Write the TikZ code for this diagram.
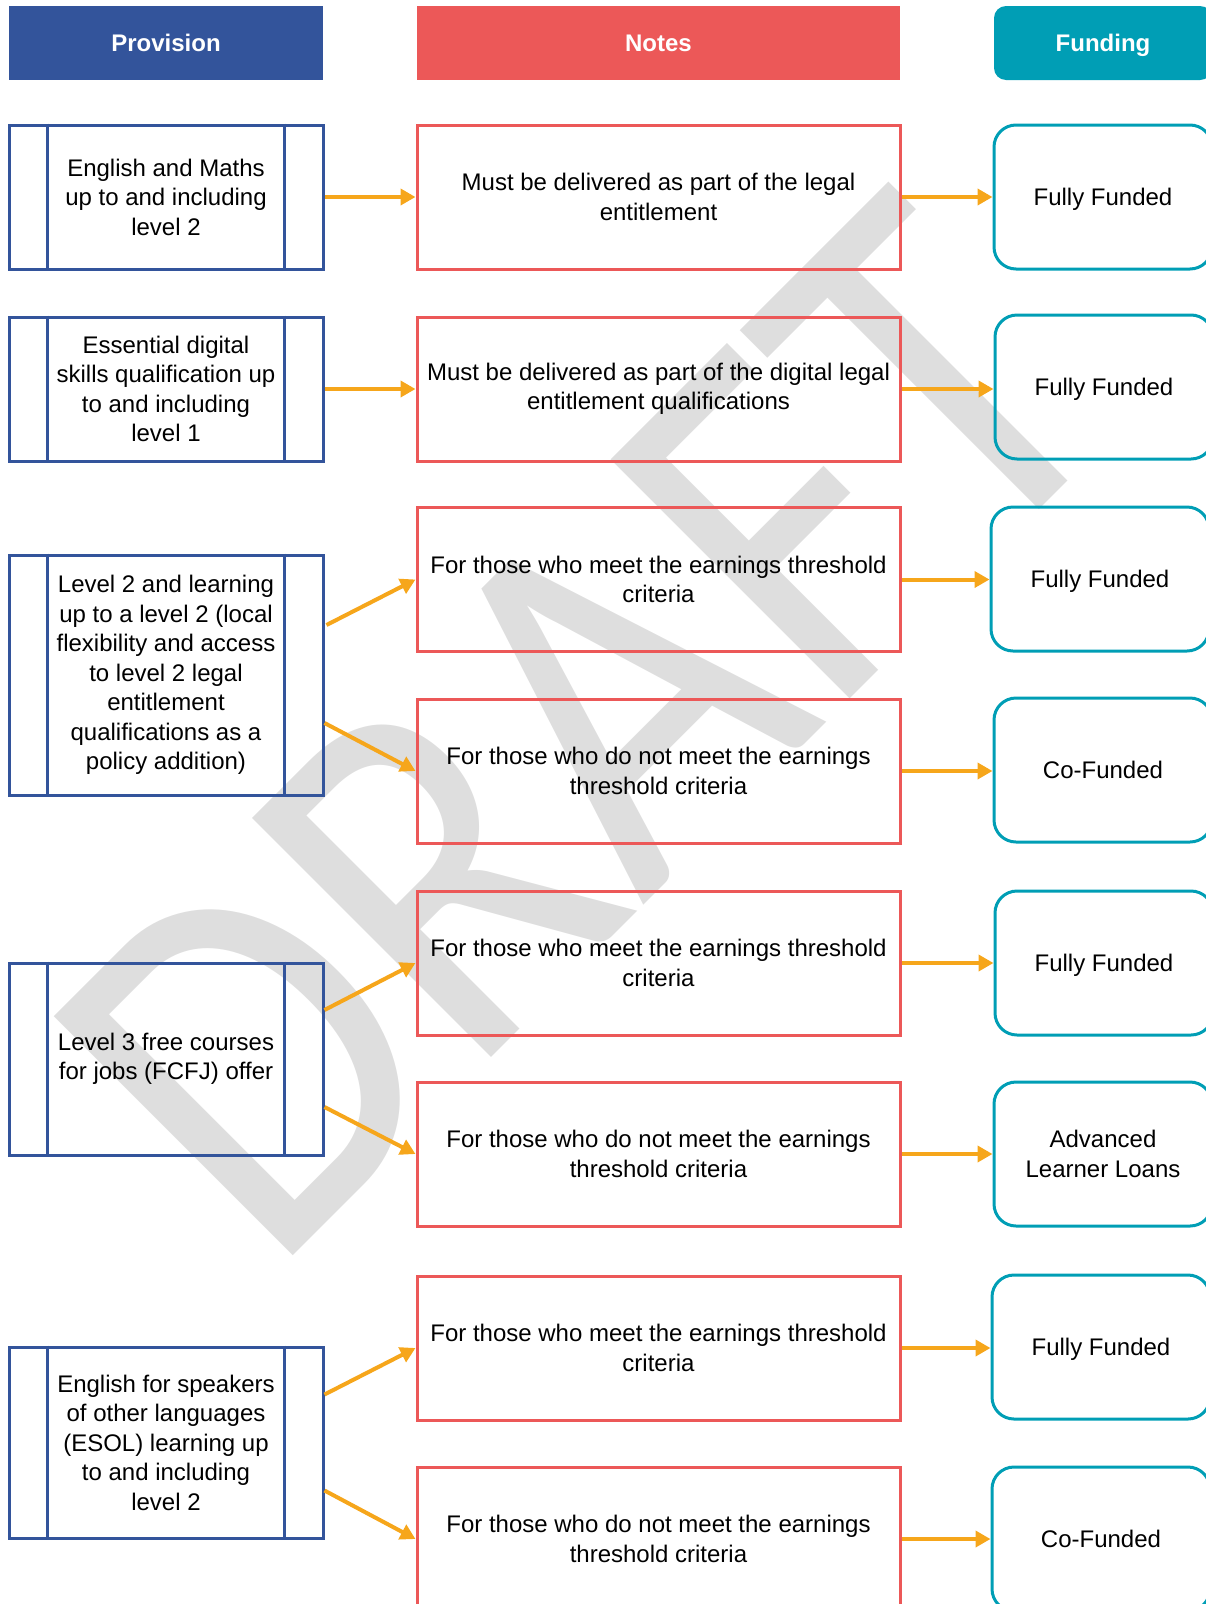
\documentclass[tikz,border=0pt]{standalone}
\usepackage{fontspec}
\setmainfont{Liberation Sans}
\newfontfamily\draftfont{Carlito}
\usetikzlibrary{calc, shapes, arrows.meta}
\definecolor{provblue}{RGB}{51,84,155}
\definecolor{notered}{RGB}{236,88,88}
\definecolor{fundteal}{RGB}{0,158,181}
\definecolor{arroworange}{RGB}{246,166,27}
\definecolor{draftgrey}{RGB}{222,222,222}

\begin{document}
\begin{tikzpicture}[x=1pt, y=-1pt,
		every node/.style={font=\fontsize{24}{29.5}\selectfont, inner sep=0pt},
		oneline/.style={text height=17.5pt, text depth=0pt},
		header/.style={oneline, minimum width=#1, minimum height=74pt, text=white, font=\fontsize{24}{29.5}\selectfont\bfseries},
		provbox/.style={draw=provblue, line width=3pt, minimum width=314pt, minimum height=#1, align=center},
		notebox/.style={draw=notered, line width=3pt, minimum width=483pt, minimum height=144pt, align=center},
		fundbox/.style={draw=fundteal, line width=3pt, rounded corners=22pt, minimum width=218pt, minimum height=144pt, align=center},
		provline/.style={draw=provblue, line width=3pt},
		flow/.style={draw=arroworange, line width=4pt, -{Triangle[length=15pt,width=16pt]}},
		draft/.style={text=draftgrey, rotate=45, xscale=0.86, font=\draftfont\fontsize{527}{527}\selectfont}
	]
	\useasboundingbox (0,0) rectangle (1206,1604);
	%Watermark behind everything
	\node [draft] (wm) at (582,728) {DRAFT};
	%Column headers
	\node [header=314pt, fill=provblue] (hprov) at (166,43) {Provision};
	\node [header=483pt, fill=notered] (hnote) at (658.5,43) {Notes};
	\node [header=218pt, fill=fundteal, rounded corners=12pt] (hfund) at (1103,43) {Funding};
	%Provision column
	\node [provbox=144pt] (p1) at (166,197) {English and Maths\\up to and including\\level 2};
	\node [provbox=144pt] (p2) at (166,389) {Essential digital\\skills qualification up\\to and including\\level 1};
	\node [provbox=240pt] (p3) at (166,675) {Level 2 and learning\\up to a level 2 (local\\flexibility and access\\to level 2 legal\\entitlement\\qualifications as a\\policy addition)};
	\node [provbox=192pt] (p4) at (166,1059) {Level 3 free courses\\for jobs (FCFJ) offer};
	\node [provbox=191pt] (p5) at (166,1442.5) {English for speakers\\of other languages\\(ESOL) learning up\\to and including\\level 2};
	%Inner side bars of the provision boxes
	\foreach \p in {p1,p2,p3,p4,p5} {
		\draw [provline] ($(\p.north west)+(40,0)$) -- ($(\p.south west)+(40,0)$);
		\draw [provline] ($(\p.north east)+(-40,0)$) -- ($(\p.south east)+(-40,0)$);
	}
	%Notes column
	\node [notebox] (n1) at (658.5,197) {Must be delivered as part of the legal\\entitlement};
	\node [notebox] (n2) at (658.5,389) {Must be delivered as part of the digital legal\\entitlement qualifications};
	\node [notebox] (n3) at (658.5,579.5) {For those who meet the earnings threshold\\criteria};
	\node [notebox] (n4) at (658.5,771) {For those who do not meet the earnings\\threshold criteria};
	\node [notebox] (n5) at (658.5,963) {For those who meet the earnings threshold\\criteria};
	\node [notebox] (n6) at (658.5,1154) {For those who do not meet the earnings\\threshold criteria};
	\node [notebox] (n7) at (658.5,1348) {For those who meet the earnings threshold\\criteria};
	\node [notebox] (n8) at (658.5,1539) {For those who do not meet the earnings\\threshold criteria};
	%Funding column
	\node [fundbox, oneline] (f1) at (1103,197) {Fully Funded};
	\node [fundbox, oneline] (f2) at (1104,387) {Fully Funded};
	\node [fundbox, oneline] (f3) at (1100,579) {Fully Funded};
	\node [fundbox, oneline] (f4) at (1103,770) {Co-Funded};
	\node [fundbox, oneline] (f5) at (1104,963) {Fully Funded};
	\node [fundbox] (f6) at (1103,1154) {Advanced\\Learner Loans};
	\node [fundbox, oneline] (f7) at (1101,1347) {Fully Funded};
	\node [fundbox, oneline] (f8) at (1101,1539) {Co-Funded};
	%Arrows provision to notes
	\draw [flow] (p1.east) -- (n1.west);
	\draw [flow] (p2.east) -- (n2.west);
	\draw [flow] ($(p3.east)+(2,-50)$) -- (n3.west);
	\draw [flow] ($(p3.east)+(0,48)$) -- (n4.west);
	\draw [flow] ($(p4.east)+(0,-49)$) -- (n5.west);
	\draw [flow] ($(p4.east)+(0,48)$) -- (n6.west);
	\draw [flow] ($(p5.east)+(0,-48)$) -- (n7.west);
	\draw [flow] ($(p5.east)+(0,48)$) -- (n8.west);
	%Arrows notes to funding
	\foreach \i in {1,...,8} {
		\draw [flow] (n\i.east) -- (n\i.east -| f\i.west);
	}
\end{tikzpicture}
\end{document}
